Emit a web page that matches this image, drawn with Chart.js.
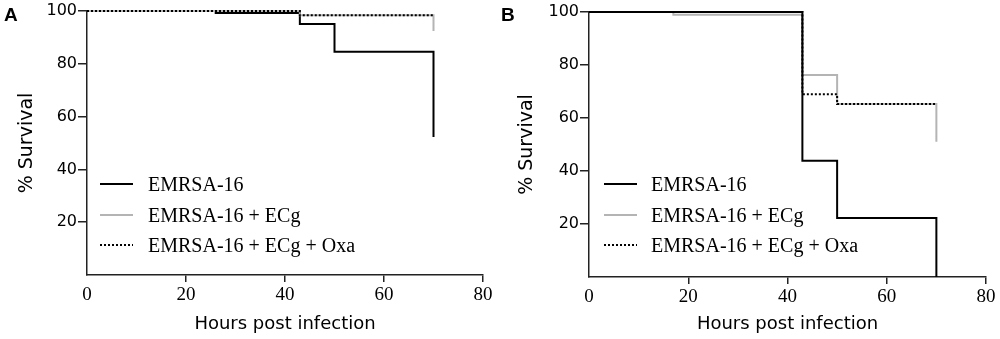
<!DOCTYPE html>
<html>
<head>
    <style>
        body {
            margin: 0;
            width: 1000px;
            height: 339px;
            background: #fff;
            position: relative;
            overflow: hidden;
        }
        .panel {
            position: absolute;
            top: 0;
            width: 500px;
            height: 339px;
        }
        .letter {
            position: absolute;
            font-family: "Liberation Sans", Arial, sans-serif;
            font-weight: bold;
            font-size: 19px;
            line-height: 19px;
        }
        .row {
            position: absolute;
            height: 24px;
            line-height: 24px;
            font-family: "Liberation Serif", serif;
            font-size: 20px;
            color: #000;
            white-space: nowrap;
        }
        .swatch {
            position: absolute;
            width: 33px;
            height: 2px;
            top: 11px;
        }
        .row span.txt {
            position: absolute;
        }
    </style>
    <script src="https://cdn.jsdelivr.net/npm/chart.js"></script>
</head>
<body>
    <div class="panel" id="panelA" style="left:0">
        <canvas id="chartA" width="500" height="339"></canvas>
        <div class="letter" style="left:4px; top:5px">A</div>
    </div>
    <div class="panel" id="panelB" style="left:500px">
        <canvas id="chartB" width="500" height="339"></canvas>
        <div class="letter" style="left:1px; top:5px">B</div>
    </div>
    <script>
        // series names and axis ticks
        var seriesNames = ['EMRSA-16', 'EMRSA-16 + ECg', 'EMRSA-16 + ECg + Oxa'];
        var xTicks = [0, 20, 40, 60, 80];
        var yTicks = [20, 40, 60, 80, 100];

        // panel A (hours, % survival after each step)
        var hoursA_ctrl = [0, 26, 43, 50, 70];
        var survA_ctrl = [100, 99.2, 95.1, 84.6, 52.3];
        var hoursA_ecg = [0, 43, 70];
        var survA_ecg = [100, 98.4, 92.4];
        var hoursA_oxa = [0, 43, 70];
        var survA_oxa = [100, 98.4, 98.4];

        // panel B
        var hoursB_ctrl = [0, 43, 50, 70];
        var survB_ctrl = [100, 43.9, 22.3, 0];
        var hoursB_ecg = [0, 17, 43, 50, 70];
        var survB_ecg = [100, 99, 76.2, 65.3, 51];
        var hoursB_oxa = [0, 43, 50, 70];
        var survB_oxa = [100, 69, 65.3, 65.3];

        var styles = [
            { color: '#000', dash: [] },
            { color: '#b4b4b4', dash: [] },
            { color: '#000', dash: [2, 2] }
        ];

        function pts(xs, ys) {
            return xs.map(function(x, i) { return { x: x, y: ys[i] }; });
        }

        function hideZero(c) {
            return (c.tick && c.tick.value === 0) ? 'rgba(0,0,0,0)' : '#222';
        }

        function makeChart(id, series, orders, box) {
            var datasets = series.map(function(s, i) {
                return {
                    label: seriesNames[i],
                    data: s,
                    borderColor: styles[i].color,
                    borderDash: styles[i].dash,
                    borderWidth: 2,
                    stepped: 'before',
                    pointRadius: 0,
                    fill: false,
                    clip: 4,
                    order: orders[i]
                };
            });
            return new Chart(document.getElementById(id), {
                type: 'line',
                data: { datasets: datasets },
                options: {
                    responsive: false,
                    animation: false,
                    layout: { padding: { left: 0, right: box.right, top: box.top, bottom: 0 } },
                    plugins: { legend: { display: false }, tooltip: { enabled: false } },
                    scales: {
                        x: {
                            type: 'linear', min: 0, max: 80,
                            afterFit: function(s) { s.height = box.xh; },
                            afterBuildTicks: function(s) { s.ticks = xTicks.map(function(v) { return { value: v }; }); },
                            grid: { drawOnChartArea: false, tickLength: 7, lineWidth: 1.5, color: hideZero },
                            border: { color: '#222', width: 1.5 },
                            ticks: { font: { family: 'Liberation Serif', size: 19 }, color: '#000', padding: 2, maxRotation: 0 },
                            title: { display: true, text: 'Hours post infection', color: '#000',
                                     font: { family: 'DejaVu Sans', size: 18 }, padding: { top: 0, bottom: 4 } }
                        },
                        y: {
                            type: 'linear', min: 0, max: 100,
                            afterFit: function(s) { s.width = box.yw; },
                            afterBuildTicks: function(s) { s.ticks = yTicks.map(function(v) { return { value: v }; }); },
                            grid: { drawOnChartArea: false, tickLength: 9, lineWidth: 1.5, color: '#222' },
                            border: { color: '#222', width: 1.5 },
                            ticks: { font: { family: 'DejaVu Sans', size: 16 }, color: '#000', padding: 1 },
                            title: { display: true, text: '% Survival', color: '#000',
                                     font: { family: 'DejaVu Sans', size: 19 }, padding: { top: 16, bottom: 0 } }
                        }
                    }
                }
            });
        }

        // order: lower value is drawn on top
        var chartA = makeChart('chartA',
            [pts(hoursA_ctrl, survA_ctrl), pts(hoursA_ecg, survA_ecg), pts(hoursA_oxa, survA_oxa)],
            [3, 2, 1], { right: 17, top: 11, xh: 64, yw: 87 });
        var chartB = makeChart('chartB',
            [pts(hoursB_ctrl, survB_ctrl), pts(hoursB_ecg, survB_ecg), pts(hoursB_oxa, survB_oxa)],
            [1, 3, 2], { right: 14, top: 12, xh: 62, yw: 89 });

        // legend inside each plot, lower left
        function addLegend(panelId, lineX, textX, rowsY) {
            var panel = document.getElementById(panelId);
            seriesNames.forEach(function(name, i) {
                var row = document.createElement('div');
                row.className = 'row';
                row.style.left = lineX + 'px';
                row.style.top = (rowsY[i] - 12) + 'px';
                var sw = document.createElement('span');
                sw.className = 'swatch';
                if (styles[i].dash.length) {
                    sw.style.background = 'repeating-linear-gradient(90deg,#000 0 2px,transparent 2px 4px)';
                } else {
                    sw.style.background = styles[i].color;
                }
                var t = document.createElement('span');
                t.className = 'txt';
                t.style.left = (textX - lineX) + 'px';
                t.textContent = name;
                row.appendChild(sw);
                row.appendChild(t);
                panel.appendChild(row);
            });
        }
        addLegend('panelA', 100, 148, [184, 215, 245]);
        addLegend('panelB', 104, 151, [184, 215, 245]);
    </script>
</body>
</html>
